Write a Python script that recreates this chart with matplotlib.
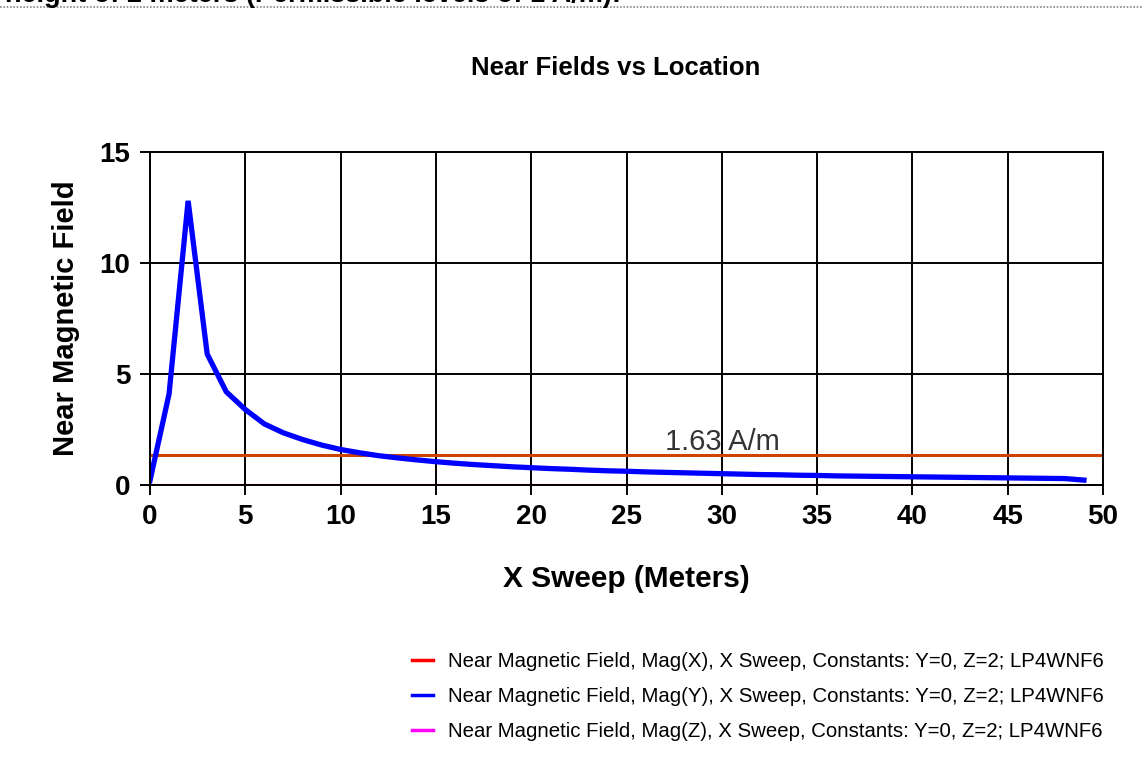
import numpy as np
from matplotlib import pyplot as plt

plt.rcParams['font.family'] = ['Liberation Sans', 'DejaVu Sans']

# x sweep positions (meters) and field magnitudes (A/m)
x_sweep = list(range(0, 50))
mag_y = [0.2, 4.1, 12.8, 5.9, 4.2, 3.4, 2.75, 2.35, 2.05, 1.8,
         1.6, 1.45, 1.32, 1.22, 1.13, 1.05, 0.98, 0.92, 0.87, 0.82,
         0.78, 0.74, 0.71, 0.67, 0.64, 0.62, 0.59, 0.57, 0.55, 0.53,
         0.51, 0.49, 0.47, 0.46, 0.44, 0.43, 0.41, 0.40, 0.39, 0.38,
         0.37, 0.36, 0.35, 0.34, 0.33, 0.32, 0.31, 0.30, 0.29, 0.22]
mag_x = [0.02] * 50
mag_z = [0.0] * 50
limit_level = 1.35
limit_label = "1.63 A/m"

labels = ["Near Magnetic Field, Mag(X), X Sweep, Constants: Y=0, Z=2; LP4WNF6",
          "Near Magnetic Field, Mag(Y), X Sweep, Constants: Y=0, Z=2; LP4WNF6",
          "Near Magnetic Field, Mag(Z), X Sweep, Constants: Y=0, Z=2; LP4WNF6"]

fig = plt.figure(figsize=(11.43, 7.71), dpi=100)
ax = fig.add_axes([150/1143, 1-485/771, 953/1143, 333/771])

lz, = ax.plot(x_sweep, mag_z, color='#ff00ff', lw=2.2)
lx, = ax.plot(x_sweep, mag_x, color='#ff0000', lw=2.2)
ax.axhline(limit_level, color='#cc4400', lw=2.2)
ly, = ax.plot(x_sweep, mag_y, color='#0000ff', lw=3.8, solid_joinstyle='miter')
ax.text(27, 1.58, limit_label, fontsize=21, color='#333333', va='baseline')

ax.set_xlim(0, 50)
ax.set_ylim(0, 15)
ax.set_xticks(np.arange(0, 51, 5))
ax.set_yticks([0, 5, 10, 15])
ax.grid(True, color='black', lw=1.4)
ax.set_axisbelow(True)
for s in ax.spines.values():
    s.set_color('black')
    s.set_linewidth(1.4)
ax.tick_params(direction='out', length=7, width=1.4, labelsize=20, pad=7)
for t in ax.get_xticklabels() + ax.get_yticklabels():
    t.set_fontweight('bold')

ax.set_xlabel("X Sweep (Meters)", fontsize=21.5, fontweight='bold', labelpad=25)
ax.set_ylabel("Near Magnetic Field", fontsize=21, fontweight='bold', labelpad=14)
fig.text(616/1143, 1-68/771, "Near Fields vs Location", fontsize=18.5,
         fontweight='bold', ha='center', va='center')

leg = fig.legend([lx, ly, lz], labels, loc='upper left',
                 bbox_to_anchor=(394/1143, 1-634/771), frameon=False,
                 fontsize=14.7, handlelength=1.0, handletextpad=0.75, labelspacing=0.78)
for h in leg.get_lines():
    h.set_linewidth(2.5)

# clipped header text from the page above and dotted rule
fig.text(5/1143, 1-2/771, "height of 2 meters (Permissible levels of 1 A/m):",
         fontsize=19.5, fontweight='bold', va='baseline', ha='left')
fig.add_artist(plt.Line2D([0, 1], [1-7/771, 1-7/771], transform=fig.transFigure,
                          color='#888888', lw=1.2, ls=(0, (1, 1))))

fig.savefig('out.png', dpi=100)
